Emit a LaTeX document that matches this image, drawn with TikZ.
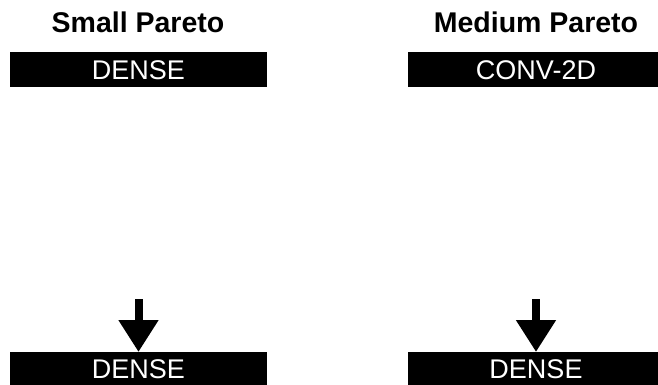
\documentclass[tikz,border=0pt]{standalone}
\usepackage{fontspec}
\setmainfont{Liberation Sans}
\usetikzlibrary{arrows.meta}
\begin{document}
\begin{tikzpicture}[x=1pt,y=-1pt,
  title/.style={font=\fontsize{28.5}{31}\selectfont\bfseries, text=black},
  layer/.style={fill=black, text=white, minimum width=257pt, minimum height=35pt,
    inner sep=0pt, font=\fontsize{27}{30}\selectfont},
  flow/.style={line width=8pt, -{Triangle[width=38pt,length=32pt]}}]
  \useasboundingbox (0,0) rectangle (658,385);
  % left column
  \node[title] (t1) at (138,22) {Small Pareto};
  \node[layer] (a1) at (138.5,70) {DENSE};
  \node[layer, anchor=north] (b1) at (138.5,352) {DENSE};
  \coordinate (s1) at (138.5,299);
  \draw[flow] (s1) -- (b1.north);
  % right column
  \node[title] (t2) at (536,22) {Medium Pareto};
  \node[layer] (a2) at (536,70) {CONV-2D};
  \node[layer, anchor=north] (b2) at (536,352) {DENSE};
  \coordinate (s2) at (536,299);
  \draw[flow] (s2) -- (b2.north);
\end{tikzpicture}
\end{document}
